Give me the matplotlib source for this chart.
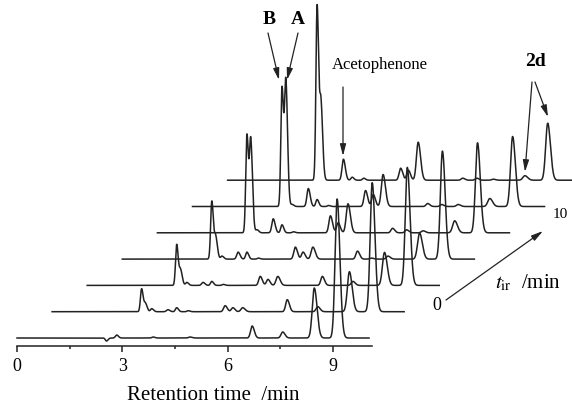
import numpy as np
import matplotlib
matplotlib.use("Agg")
import matplotlib.pyplot as plt

plt.rcParams['font.family'] = ['Liberation Serif', 'DejaVu Serif']
plt.rcParams['mathtext.fontset'] = 'stix'

# ---------------- data ----------------
# retention times (min, local to each chromatogram) of the peaks
peak_rt = [2.55, 2.66, 2.84, 3.30, 3.55, 3.88, 4.93, 5.15, 5.43, 6.70, 7.10, 7.57, 8.47, 9.12]
# front (left) half-widths of the peaks, min; tails are a bit wider
peak_sigma = [0.033, 0.036, 0.036, 0.040, 0.036, 0.036, 0.044, 0.044, 0.050, 0.045, 0.045, 0.048, 0.058, 0.058]
tail_factor = 1.35
# peak heights (detector units) for the 7 chromatograms, bottom (t_ir = 0) to top (t_ir = 10)
h_B     = [-3, 23, 41, 58, 98, 119, 175]
h_A     = [0, 8, 15, 22, 91, 123, 75]
h_284   = [3, 3, 3, 3, 3, 2, 0]
h_aceto = [0, 2, 3, 7, 14, 18, 21]
h_355   = [0, 4, 4, 7, 8, 7, 3]
h_388   = [1, 1, 1, 1, 1, 1, 2]
h_493   = [1, 6, 9, 12, 17, 16, 12]
h_515   = [0, 4, 6, 7, 10, 12, 10]
h_543   = [0, 4, 9, 12, 29, 32, 38]
h_670   = [12, 12, 9, 8, 4.5, 3, 2]
h_710   = [0, 0, 0, 1, 3, 2, 2]
h_757   = [6, 5, 4, 3, 2, 2, 1]
h_2d_1  = [50, 40, 33, 26, 12, 8, 4.5]
h_2d_2  = [139, 129, 118, 108, 90, 70, 57]
run_length = 10.03          # min
x_ticks = [0, 3, 6, 9]
x_minor = [1.5, 4.5, 7.5]
x_label = "Retention time  /min"

heights = np.array([h_B, h_A, h_284, h_aceto, h_355, h_388, h_493, h_515,
                    h_543, h_670, h_710, h_757, h_2d_1, h_2d_2]).T

# ---------------- layout ----------------
px_per_min = 35.1
x0_px = 17.0
base_px = 338.0
spine_px = 345.7
W, H = 572, 404
shift_x = 1.0      # min per trace
shift_y = 26.3     # units per trace

def P(px, py):
    return ((px - x0_px) / px_per_min, base_px - py)

fig = plt.figure(figsize=(W / 100, H / 100), dpi=100)
b = (H - spine_px) / H
ax = fig.add_axes([0, b, 1, 1 - b])
ax.set_xlim(-x0_px / px_per_min, (W - x0_px) / px_per_min)
ax.set_ylim(base_px - spine_px, base_px)

lc = '#222222'
t = np.linspace(0, run_length, 3000)
for i in range(heights.shape[0]):
    y = np.zeros_like(t)
    for rt, s, h in zip(peak_rt, peak_sigma, heights[i]):
        sig = np.where(t < rt, s, s * tail_factor)
        y += h * np.exp(-0.5 * ((t - rt) / sig) ** 2)
    ax.plot(t + i * shift_x, y + i * shift_y, color=lc, lw=1.1)

for side in ['left', 'right', 'top']:
    ax.spines[side].set_visible(False)
ax.spines['bottom'].set_bounds(0, 10.1)
ax.spines['bottom'].set_linewidth(1.1)
ax.spines['bottom'].set_color(lc)
ax.set_yticks([])
ax.set_xticks(x_ticks)
ax.set_xticks(x_minor, minor=True)
ax.tick_params(axis='x', which='major', direction='out', length=4.5, width=1.1,
               labelsize=13, pad=4.5, color=lc)
ax.tick_params(axis='x', which='minor', direction='out', length=2.5, width=1.1, color=lc)
ax.set_xlabel(x_label, fontsize=15)
ax.xaxis.set_label_coords(213 / W, -(396 - spine_px) / spine_px)
ax.xaxis.label.set_va('center')

arrow = dict(arrowstyle='-|>,head_length=0.7,head_width=0.18', lw=0.9, color=lc,
             shrinkA=0, shrinkB=0)

ax.text(*P(269, 20), 'B', fontsize=14, fontweight='bold', ha='center', va='center')
ax.text(*P(298, 20), 'A', fontsize=14, fontweight='bold', ha='center', va='center')
ax.annotate('', xy=P(279, 80), xytext=P(268, 33), arrowprops=arrow)
ax.annotate('', xy=P(287, 80), xytext=P(298, 33), arrowprops=arrow)

ax.text(*P(380, 65), 'Acetophenone', fontsize=12, ha='center', va='center')
ax.annotate('', xy=P(343, 156), xytext=P(343, 87), arrowprops=arrow)

ax.text(*P(535, 62), '2d', fontsize=14, fontweight='bold', ha='center', va='center')
ax.annotate('', xy=P(525, 172), xytext=P(532, 82), arrowprops=arrow)
ax.annotate('', xy=P(548, 117), xytext=P(535, 82), arrowprops=arrow)

ax.text(*P(437, 305), '0', fontsize=13, ha='center', va='center')
ax.text(*P(560, 214), '10', fontsize=11, ha='center', va='center')
ax.annotate('', xy=P(543, 231), xytext=P(446, 300), arrowprops=arrow)
ax.text(*P(528, 283), r'$t_{\mathrm{ir}}$  /min', fontsize=15, ha='center', va='center')

fig.savefig('out.png', dpi=100)
